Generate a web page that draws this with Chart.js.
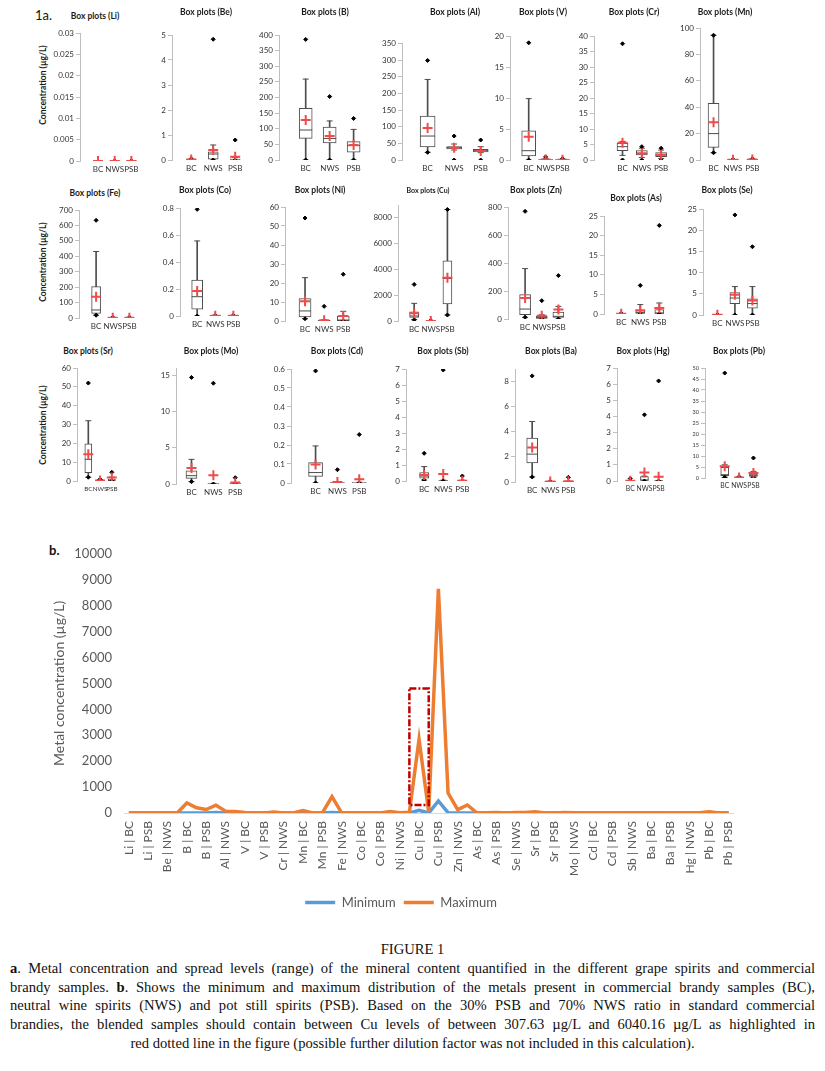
<!DOCTYPE html>
<html>
<head>
<meta charset="utf-8">
<script src="https://cdn.jsdelivr.net/npm/chart.js@4.4.0/dist/chart.umd.min.js"></script>
<style>
  body { margin: 0; width: 825px; height: 1071px; position: relative; overflow: hidden; background: #fff; font-family: Lato, "Open Sans", sans-serif; }
  canvas { position: absolute; }
  .pt { position: absolute; font-weight: bold; font-size: 8.5px; color: #1a1a1a; transform: translate(-50%, -50%); white-space: nowrap; }
  .yt { position: absolute; font-weight: bold; font-size: 8.5px; color: #1a1a1a; transform: translate(-50%, -50%) rotate(-90deg); white-space: nowrap; }
  .lab { position: absolute; font-size: 13px; color: #111; }
  #cap { position: absolute; left: 10px; top: 940px; width: 805px; font-family: "Liberation Serif", "DejaVu Serif", serif; font-size: 14.6px; color: #111; line-height: 18.8px; }
  #cap div { white-space: nowrap; text-align: justify; text-align-last: justify; }
  #cap .c { text-align: center; text-align-last: center; }
</style>
</head>
<body>
<div class="lab" style="left:35px;top:7px;font-size:13px;">1a.</div>
<div class="lab" style="left:49px;top:542px;font-weight:bold;font-size:13px;">b.</div>
<div class="yt" style="left:43px;top:85px;">Concentration (µg/L)</div>
<div class="yt" style="left:43px;top:262px;">Concentration (µg/L)</div>
<div class="yt" style="left:43px;top:425px;">Concentration (µg/L)</div>
<div id="cap">
  <div class="c">FIGURE 1</div>
  <div><b>a</b>. Metal concentration and spread levels (range) of the mineral content quantified in the different grape spirits and commercial</div>
  <div>brandy samples. <b>b</b>. Shows the minimum and maximum distribution of the metals present in commercial brandy samples (BC),</div>
  <div>neutral wine spirits (NWS) and pot still spirits (PSB). Based on the 30% PSB and 70% NWS ratio in standard commercial</div>
  <div>brandies, the blended samples should contain between Cu levels of between 307.63 µg/L and 6040.16 µg/L as highlighted in</div>
  <div class="c">red dotted line in the figure (possible further dilution factor was not included in this calculation).</div>
</div>
<canvas id="lineChart" width="700" height="385" style="left:51px;top:534px;"></canvas>
<script>
Chart.defaults.font.family = 'Lato, "Open Sans", sans-serif';

// data: one [BC, NWS, PSB] triple per metal
const metals = ['Li','Be','B','Al','V','Cr','Mn','Fe','Co','Ni','Cu','Zn','As','Se','Sr','Mo','Cd','Sb','Ba','Hg','Pb'];
const groups = ['BC','NWS','PSB'];

const minVals = [[0,0,0],[0,0,0],[0,0,0],[23,0,0],[0,0,0],[0,0,0],[5.5,0,0],[18,0,0],[0,0,0],[1.2,0,0],
  [100,0,465],[12,0,0],[0,0,0],[0,0,0],[2,0,0],[0.32,0,0],[0,0,0],[0.06,0,0],[0.4,0,0],[0,0,0],[0.3,0,0.3]];
const q1Vals = [[0,0,0],[0,0.03,0],[69,55,25],[39,33,24],[0.64,0,0],[3.0,1.6,1.1],[9.6,0,0],[30,0,0],[0.05,0,0],[2.1,0.05,0.2],
  [280,0,1320],[31,5,12],[0,0,0],[0,2.7,1.6],[4.4,0.1,0.2],[0.78,0,0],[0.035,0,0],[0.17,0,0],[1.51,0,0],[0,0,0],[1.06,0,0.75]];
const medVals = [[0,0,0],[0,0.24,0],[96,69,46],[72,37,28],[1.5,0,0],[4.3,2.1,1.6],[20,0,0],[52,0.5,0.5],[0.143,0,0],[5.3,0.1,0.5],
  [390,2,3300],[71,10,19],[0,0.4,0.25],[0,4,2.7],[11.5,0.3,0.5],[1.15,0,0],[0.055,0,0],[0.31,0,0],[2.22,0,0],[0,0.06,0],[1.5,0,1.06]];
const q3Vals = [[0,0,0],[0.01,0.33,0.05],[165,105,59],[132,40,32],[4.7,0.05,0.05],[5.4,3.0,2.4],[43,0.1,0.2],[203,1,1],[0.267,0.002,0.002],[11.75,0.3,2.6],
  [720,5,4670],[174,19,50],[0.05,0.85,1.1],[0.02,5.3,3.8],[19.7,0.5,1],[1.8,0.05,0.05],[0.107,0.002,0.002],[0.52,0.02,0.02],[3.5,0.01,0.01],[0.01,0.27,0.01],[4.85,0.1,1.8]];
const whiskLoVals = [[0,0,0],[0,0,0],[0,0,0],[23,30,22],[0,0,0],[1.5,0.8,0.5],[5.5,0,0],[18,0,0],[0,0,0],[1.2,0,0],
  [100,0,465],[12,0,0],[0,0,0],[0,0,0],[2,0,0],[0.32,0,0],[0,0,0],[0.06,0,0],[0.4,0,0],[0,0,0],[0.3,0,0.3]];
const whiskHiVals = [[0,0,0],[0.02,0.6,0.1],[259,125,98],[242,48,40],[9.9,0.2,0.1],[6,3.8,3.2],[94.5,0.3,0.5],[431,2,2],[0.556,0.004,0.004],[22.8,0.6,5.1],
  [1370,15,8650],[360,30,90],[0.1,2.4,2.8],[0.05,6.7,6.7],[32,0.8,2],[3.4,0.1,0.1],[0.195,0.004,0.004],[0.9,0.05,0.05],[4.82,0.02,0.05],[0.02,0.3,0.02],[6,0.3,3]];
const maxVals = [[0,0,0],[0.05,4.83,0.8],[386,203,133],[299,72,60],[18.9,0.5,0.25],[37.5,4.3,3.8],[94.5,0.5,1],[633,5,5],[0.79,0.005,0.005],[54.2,7.7,24.6],
  [2840,40,8650],[769,131,310],[0.2,7.3,22.6],[0.1,23.6,16.1],[52,0.9,4.6],[14.7,13.9,0.87],[0.59,0.07,0.255],[1.73,6.94,0.31],[8.45,0.05,0.37],[0.15,4.1,6.2],[47.7,0.6,9.1]];
const meanVals = [[0,0,0],[0.02,0.4,0.13],[128,77,48],[96,37,27],[3.75,0.08,0.06],[5.6,2.2,1.7],[28.6,0.1,0.3],[138,2,2],[0.185,0.002,0.002],[10.35,0.35,2.6],
  [595,6,3350],[150,24,67],[0.08,0.94,1.5],[0.03,4.8,3.4],[14.2,0.3,1.8],[2.2,1.2,0.2],[0.097,0.005,0.02],[0.375,0.44,0.02],[2.75,0.03,0.05],[0.02,0.52,0.27],[5.3,0.2,2.3]];

const axisMax  = [0.03,5,400,350,20,40,100,700,0.8,60,9000,800,25,25,60,16,0.6,7,9,7,50];
const axisStep = [0.005,1,50,50,5,5,20,100,0.2,10,2000,200,5,5,10,5,0.1,1,2,1,5];

// blended Cu range highlighted in panel b
const cuBlendRange = [307.63, 4800];
const highlightCats = ['Ni | PSB', 'Cu | NWS'];

// panel layout: axis x, axis top px, zero px, first/last category px, box width, title x, title y
const panelLayout = [
  [80, 33, 160.7, 100, 137, 10, 95, 16],
  [172, 35, 160, 193, 241, 10, 206, 12],
  [279, 35, 160, 308, 360, 13, 325, 12],
  [402, 43, 160, 430, 488, 15, 455, 12],
  [510, 35.7, 160, 531, 569, 14, 543, 12],
  [594, 35.7, 160, 625, 667, 11, 634, 12],
  [700, 27.7, 159.3, 715, 758, 11, 725, 12],
  [79, 210.3, 318.7, 98, 135, 9, 95, 193],
  [180, 208.3, 316.7, 199, 239, 11, 205, 190],
  [285, 206.7, 320.7, 307, 349, 12, 320, 190],
  [398, 204.8, 321, 416, 453, 9, 428, 190],
  [508, 207, 319, 527, 564, 11, 536, 190],
  [604, 216.3, 314, 623, 665, 9, 636, 198],
  [703, 208.7, 315, 719, 758, 10, 727, 190],
  [77, 368.3, 481, 90, 117, 7, 88, 351],
  [176, 367.7, 484, 193, 241, 11, 211, 351],
  [291, 369, 482.7, 318, 366, 14, 337, 351],
  [406, 369, 481, 426, 468, 9, 443, 351],
  [515, 369.2, 482, 534, 574, 11, 551, 351],
  [617, 368.3, 481, 632, 664, 8, 643, 351],
  [705, 368.3, 478.3, 727, 759, 8, 739, 351]
];

const BOX = '#4d4d4d';

function boxPanel(i) {
  const [ax, top, zero, c1, c3, bw, tx, ty] = panelLayout[i];
  const padL = 30, padT = 8, xH = 16, rm = 14;
  const s = (c3 - c1) / 2;
  const cv = document.createElement('canvas');
  const w = Math.round(c3 + rm - (ax - padL));
  const h = Math.round(zero - top + padT + xH);
  cv.width = w; cv.height = h;
  cv.style.left = (ax - padL) + 'px';
  cv.style.top = (top - padT) + 'px';
  document.body.appendChild(cv);

  const t = document.createElement('div');
  t.className = 'pt';
  t.textContent = 'Box plots (' + metals[i] + ')';
  t.style.left = tx + 'px'; t.style.top = ty + 'px';
  if (metals[i] === 'Cu') t.style.fontSize = '7px';
  document.body.appendChild(t);

  const pts = arr => groups.map((g, j) => ({ x: j + 1, y: arr[i][j] }));
  const range = (lo, hi) => groups.map((g, j) => ({ x: j + 1, y: [lo[i][j], hi[i][j]] }));
  const capHi = groups.map((g, j) => ({ x: j + 1, y: whiskHiVals[i][j] > q3Vals[i][j] ? whiskHiVals[i][j] : null }));
  const capLo = groups.map((g, j) => ({ x: j + 1, y: whiskLoVals[i][j] < q1Vals[i][j] ? whiskLoVals[i][j] : null }));
  const pointSet = (data, style, r, color, bwid) => ({
    type: 'line', data, showLine: false, pointStyle: style, pointRadius: r,
    pointBorderColor: color, pointBackgroundColor: color, pointBorderWidth: bwid
  });
  const tickFont = metals[i] === 'Pb' ? 5.5 : 8;
  const catFont = s < 15 ? 6.3 : (s < 17 ? 6.8 : 8);

  new Chart(cv, {
    type: 'bar',
    data: {
      datasets: [
        pointSet(pts(meanVals), 'cross', 5, '#ef4b4b', 2),
        pointSet(pts(maxVals), 'rectRot', 2, '#000', 1),
        pointSet(pts(minVals), 'rectRot', 2, '#000', 1),
        pointSet(pts(medVals), 'line', bw / 2, BOX, 1),
        pointSet(capHi, 'line', 3, BOX, 1),
        pointSet(capLo, 'line', 3, BOX, 1),
        { data: range(q1Vals, q3Vals), backgroundColor: '#fff', borderColor: BOX, borderWidth: 1,
          borderSkipped: false, barThickness: bw, grouped: false },
        { data: range(q3Vals, whiskHiVals), backgroundColor: BOX, borderWidth: 0, barThickness: 1, grouped: false },
        { data: range(whiskLoVals, q1Vals), backgroundColor: BOX, borderWidth: 0, barThickness: 1, grouped: false }
      ]
    },
    options: {
      responsive: false, animation: false, events: [],
      layout: { padding: { top: padT, left: 0, right: 0, bottom: 0 } },
      plugins: { legend: { display: false }, tooltip: { enabled: false } },
      scales: {
        x: {
          type: 'linear', offset: false,
          min: 1 - (c1 - ax) / s, max: 3 + rm / s,
          grid: { display: false, drawTicks: false }, border: { display: false },
          ticks: { color: '#333', font: { size: catFont }, padding: 4, autoSkip: false, maxRotation: 0, minRotation: 0,
            callback: v => groups[v - 1] || '' },
          afterBuildTicks: sc => { sc.ticks = [{ value: 1 }, { value: 2 }, { value: 3 }]; },
          afterFit: sc => { sc.height = xH; }
        },
        y: {
          min: 0, max: axisMax[i],
          border: { color: '#bfbfbf' },
          grid: { drawOnChartArea: false, drawTicks: true, tickLength: 4, color: '#bfbfbf' },
          ticks: { color: '#333', font: { size: tickFont }, padding: 2, callback: v => String(v) },
          afterBuildTicks: sc => {
            const out = [];
            for (let k = 0; k * axisStep[i] <= axisMax[i] + 1e-9; k++) out.push({ value: +(k * axisStep[i]).toFixed(6) });
            sc.ticks = out;
          },
          afterFit: sc => { sc.width = padL; }
        }
      }
    }
  });
}

metals.forEach((m, i) => boxPanel(i));

// panel b
const catLabels = metals.flatMap(m => groups.map(g => m + ' | ' + g));

const highlightBox = {
  id: 'highlightBox',
  afterDatasetsDraw(chart) {
    const { ctx, scales: { x, y } } = chart;
    const x0 = x.getPixelForValue(catLabels.indexOf(highlightCats[0]));
    const x1 = x.getPixelForValue(catLabels.indexOf(highlightCats[1]));
    const y0 = y.getPixelForValue(cuBlendRange[0]);
    const y1 = y.getPixelForValue(cuBlendRange[1]);
    ctx.save();
    ctx.strokeStyle = '#c00000';
    ctx.lineWidth = 2.5;
    ctx.setLineDash([7, 2, 2, 2]);
    ctx.strokeRect(x0, y1, x1 - x0, y0 - y1);
    ctx.restore();
  }
};

new Chart(document.getElementById('lineChart'), {
  type: 'line',
  data: {
    labels: catLabels,
    datasets: [
      { label: 'Minimum', data: minVals.flat(), borderColor: '#5b9bd5', backgroundColor: '#5b9bd5',
        borderWidth: 3.5, pointRadius: 0, tension: 0, order: 1 },
      { label: 'Maximum', data: maxVals.flat(), borderColor: '#ed7d31', backgroundColor: '#ed7d31',
        borderWidth: 3.5, pointRadius: 0, tension: 0, order: 0 }
    ]
  },
  options: {
    responsive: false, animation: false, events: [],
    layout: { padding: { top: 10, left: 0, right: 0, bottom: 0 } },
    plugins: {
      tooltip: { enabled: false },
      legend: {
        position: 'bottom',
        labels: {
          usePointStyle: true, pointStyle: 'line', pointStyleWidth: 30,
          color: '#595959', font: { size: 13 }, padding: 8,
          sort: (a, b) => a.datasetIndex - b.datasetIndex
        }
      }
    },
    scales: {
      x: {
        offset: true,
        grid: { display: false, drawTicks: false },
        border: { color: '#d9d9d9' },
        ticks: { autoSkip: false, minRotation: 90, maxRotation: 90, color: '#595959', font: { size: 12 }, padding: 8,
          callback: (v, idx) => idx % 2 === 0 ? catLabels[idx] : '' },
        afterFit: sc => { sc.height = 75; }
      },
      y: {
        min: 0, max: 10000,
        grid: { display: false, drawTicks: false },
        border: { display: false },
        ticks: { stepSize: 1000, color: '#595959', font: { size: 13 }, padding: 12, callback: v => String(v) },
        title: { display: true, text: 'Metal concentration (µg/L)', color: '#595959', font: { size: 14 }, padding: 0 },
        afterFit: sc => { sc.width = 73; }
      }
    }
  },
  plugins: [highlightBox]
});
</script>
</body>
</html>
